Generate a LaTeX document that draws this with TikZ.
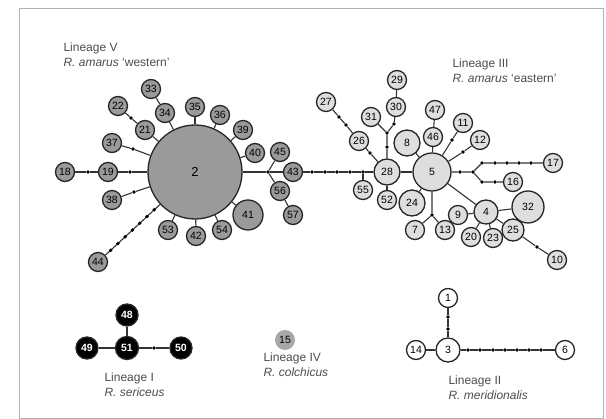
\documentclass[tikz,border=0pt]{standalone}
\usepackage{fontspec}
\setmainfont{Liberation Sans}
\usetikzlibrary{calc}
\definecolor{westgray}{HTML}{9A9A9A}
\definecolor{eastgray}{HTML}{DEDEDE}
\definecolor{colgray}{HTML}{A8A8A8}
\begin{document}
\begin{tikzpicture}[x=1pt,y=-1pt,
    hap/.style={circle,draw=black!85,line width=1.3pt,inner sep=0pt,minimum size=19pt,
                font=\fontsize{10.5}{10.5}\selectfont},
    west/.style={hap,fill=westgray},
    east/.style={hap,fill=eastgray},
    meri/.style={hap,fill=white},
    seri/.style={hap,fill=black,minimum size=23pt,text=white,font=\fontsize{10.5}{10.5}\selectfont\bfseries},
    mv/.style={circle,fill=black,inner sep=0pt,minimum size=3.8pt},
    link/.style={draw=black!80,line width=1.1pt},
    lbl/.style={align=left,anchor=west,text=black!70,font=\fontsize{12}{15}\selectfont}]
  \useasboundingbox (0,0) rectangle (606,419);
  \draw[gray!60,line width=0.8pt] (19,8) rectangle (603,418);

  % lineage V
  \node[lbl] (labV) at (60,55) {Lineage V\\\textit{R. amarus} `western'};
  \node[west,minimum size=94pt,font=\fontsize{13}{13}\selectfont] (n2) at (195,172) {2};
  \node[west] (n33) at (151,89) {33};
  \node[west] (n34) at (165,113) {34};
  \node[west] (n22) at (118,106) {22};
  \node[west] (n21) at (145,130) {21};
  \node[west] (n35) at (195,107) {35};
  \node[west] (n36) at (220,115) {36};
  \node[west] (n39) at (243,130) {39};
  \node[west] (n40) at (255,153) {40};
  \node[west] (n45) at (280,152) {45};
  \node[west] (n43) at (293,172) {43};
  \node[west] (n56) at (280,191) {56};
  \node[west] (n57) at (293,215) {57};
  \node[west,minimum size=30pt] (n41) at (248,215) {41};
  \node[west] (n54) at (222,230) {54};
  \node[west] (n42) at (196,236) {42};
  \node[west] (n53) at (168,230) {53};
  \node[west] (n38) at (112,200) {38};
  \node[west] (n37) at (112,143) {37};
  \node[west] (n19) at (108,172) {19};
  \node[west] (n18) at (65,172) {18};
  \node[west] (n44) at (98,262) {44};
  \node[mv] (d18) at (88,172) {};
  \node[mv] (d19) at (130,172) {};
  \node[mv] (d37) at (133,149) {};
  \node[mv] (d38) at (134,192) {};
  \node[mv] (d22) at (131,118) {};
  \node[mv] (j43) at (268,172) {};

  \draw[link] (n18) -- (d18) -- (n19) -- (d19) -- (n2);
  \draw[link] (n37) -- (d37) -- (n2);
  \draw[link] (n38) -- (d38) -- (n2);
  \draw[link] (n22) -- (d22) -- (n21) -- (n2);
  \draw[link] (n33) -- (n34) -- (n2);
  \foreach \n in {35,36,39,40,41,54,42,53}
    \draw[link] (n\n) -- (n2);
  \draw[link] (n2) -- (j43) -- (n43);
  \draw[link] (j43) -- (n45);
  \draw[link] (j43) -- (n56) -- (n57);
  \draw[link] (n2) -- (n44);
  \foreach \p in {0.42,0.495,0.57,0.645,0.72,0.795,0.87}
    \node[mv] at ($(n2)!\p!(n44)$) {};

  % lineage III
  \node[lbl] (labIII) at (449,71) {Lineage III\\\textit{R. amarus} `eastern'};
  \node[east,minimum size=26pt] (n28) at (387,172) {28};
  \node[east,minimum size=38pt] (n5) at (432,172) {5};
  \node[east,minimum size=26pt] (n8) at (407,143) {8};
  \node[east] (n46) at (433,137) {46};
  \node[east] (n47) at (435,110) {47};
  \node[east] (n11) at (463,123) {11};
  \node[east] (n12) at (480,140) {12};
  \node[east] (n17) at (553,163) {17};
  \node[east] (n16) at (513,182) {16};
  \node[east,minimum size=32pt] (n32) at (528,207) {32};
  \node[east,minimum size=24pt] (n4) at (486,212) {4};
  \node[east] (n9) at (458,215) {9};
  \node[east,minimum size=22pt] (n25) at (513,230) {25};
  \node[east] (n23) at (493,238) {23};
  \node[east] (n20) at (471,237) {20};
  \node[east] (n10) at (557,260) {10};
  \node[east] (n13) at (445,230) {13};
  \node[east] (n7) at (415,230) {7};
  \node[east,minimum size=26pt] (n24) at (412,203) {24};
  \node[east] (n52) at (387,200) {52};
  \node[east] (n55) at (363,190) {55};
  \node[east] (n26) at (359,141) {26};
  \node[east] (n27) at (326,102) {27};
  \node[east] (n31) at (371,117) {31};
  \node[east] (n30) at (396,107) {30};
  \node[east] (n29) at (397,80) {29};
  \node[mv] (c1) at (312,172) {};
  \node[mv] (c2) at (325,172) {};
  \node[mv] (c3) at (337,172) {};
  \node[mv] (c4) at (350,172) {};
  \node[mv] (j55) at (363,172) {};
  \node[mv] (d26) at (370,153) {};
  \node[mv] (e1) at (339,117) {};
  \node[mv] (e2) at (346,125) {};
  \node[mv] (d28) at (387,147) {};
  \node[mv] (j31) at (387,133) {};
  \node[mv] (d30) at (394,124) {};
  \node[mv] (d11) at (452,140) {};
  \node[mv] (d12) at (463,152) {};
  \node[mv] (d5) at (460,172) {};
  \node[mv] (j17) at (473,172) {};
  \node[mv] (g1) at (482,182) {};
  \node[mv] (g2) at (495,182) {};
  \node[mv] (j7) at (432,215) {};
  \node[mv] (d10) at (537,247) {};
  \foreach \i/\x in {1/482,2/495,3/507,4/519,5/531}
    \node[mv] (f\i) at (\x,163) {};

  \draw[link] (n43) -- (c1) -- (c2) -- (c3) -- (c4) -- (j55) -- (n28);
  \draw[link] (j55) -- (n55);
  \draw[link] (n28) -- (n5);
  \draw[link] (n28) -- (n52);
  \draw[link] (n28) -- (d26) -- (n26) -- (e2) -- (e1) -- (n27);
  \draw[link] (n28) -- (d28) -- (j31) -- (n31);
  \draw[link] (j31) -- (d30) -- (n30) -- (n29);
  \draw[link] (n5) -- (n8);
  \draw[link] (n5) -- (n46) -- (n47);
  \draw[link] (n5) -- (d11) -- (n11);
  \draw[link] (n5) -- (d12) -- (n12);
  \draw[link] (n5) -- (d5) -- (j17) -- (f1) -- (f2) -- (f3) -- (f4) -- (f5) -- (n17);
  \draw[link] (j17) -- (g1) -- (g2) -- (n16);
  \draw[link] (n5) -- (n24);
  \draw[link] (n5) -- (j7) -- (n7);
  \draw[link] (j7) -- (n13);
  \draw[link] (n5) -- (n4);
  \foreach \n in {9,32,20,23,25}
    \draw[link] (n4) -- (n\n);
  \draw[link] (n25) -- (d10) -- (n10);

  % lineage I
  \node[seri] (n51) at (127,348) {51};
  \node[seri,minimum size=22pt] (n48) at (127,315) {48};
  \node[seri,minimum size=22pt] (n49) at (87,348) {49};
  \node[seri,minimum size=22pt] (n50) at (181,348) {50};
  \node[mv] (d50) at (154,348) {};
  \draw[link] (n49) -- (n51) -- (n48);
  \draw[link] (n51) -- (d50) -- (n50);
  \node[lbl] (labI) at (101,385) {Lineage I\\\textit{R. sericeus}};

  % lineage IV
  \node[hap,draw=none,fill=colgray,minimum size=20pt] (n15) at (285,340) {15};
  \node[lbl] (labIV) at (260,365) {Lineage IV\\\textit{R. colchicus}};

  % lineage II
  \node[meri,minimum size=24pt] (n3) at (448,350) {3};
  \node[meri] (n1) at (448,298) {1};
  \node[meri] (n14) at (416,350) {14};
  \node[meri] (n6) at (565,350) {6};
  \node[mv] (v1) at (448,317) {};
  \node[mv] (v2) at (448,329) {};
  \foreach \i/\x in {1/468,2/480,3/493,4/505,5/517,6/529,7/541}
    \node[mv] (h\i) at (\x,350) {};
  \draw[link] (n14) -- (n3) -- (v2) -- (v1) -- (n1);
  \draw[link] (n3) -- (h1) -- (h2) -- (h3) -- (h4) -- (h5) -- (h6) -- (h7) -- (n6);
  \node[lbl] (labII) at (445,388) {Lineage II\\\textit{R. meridionalis}};
\end{tikzpicture}
\end{document}
